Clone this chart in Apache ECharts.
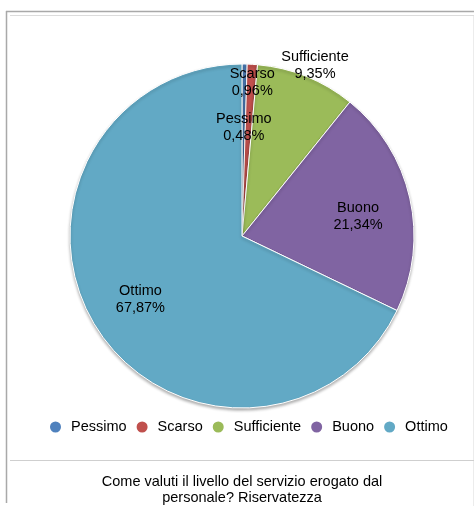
<!DOCTYPE html>
<html>
<head>
<meta charset="utf-8">
<script src="https://cdn.jsdelivr.net/npm/echarts@6/dist/echarts.min.js"></script>
<style>
  html, body { margin: 0; padding: 0; background: #fff; }
  #chart { width: 474px; height: 506px; }
</style>
</head>
<body>
<div id="chart"></div>
<script>
// Survey answers and their share of responses (percent)
const categories = ['Pessimo', 'Scarso', 'Sufficiente', 'Buono', 'Ottimo'];
const shares = [0.48, 0.96, 9.35, 21.34, 67.87];
const sliceColors = ['#4f81bd', '#c0504d', '#9bbb59', '#8064a2', '#62a9c5'];
// Small slices get their labels nudged away from the crowded top of the pie
const labelOffsets = [[0, 11], [3, -34], [28, -59], [-1, 7], [0, 0]];

const titleLines = ['Come valuti il livello del servizio erogato dal', 'personale? Riservatezza'];

const FONT = '"Liberation Sans", Arial, Helvetica, sans-serif';
const FS = 14.5;
const fmt = v => v.toFixed(2).replace('.', ',') + '%';

const center = [242, 236];
const R = 172;

const pieData = categories.map((name, i) => ({
  name,
  value: shares[i],
  itemStyle: { color: sliceColors[i] }
}));

const labelData = categories.map((name, i) => ({
  name,
  value: shares[i],
  label: { offset: labelOffsets[i] }
}));

const chart = echarts.init(document.getElementById('chart'), null, { renderer: 'canvas' });

chart.setOption({
  animation: false,
  backgroundColor: '#ffffff',
  legend: {
    data: categories,
    top: 414,
    left: 43,
    icon: 'circle',
    itemWidth: 21,
    itemHeight: 13,
    itemGap: 8,
    textStyle: { fontFamily: FONT, fontSize: FS, color: '#000', lineHeight: 16 }
  },
  graphic: [
    // outer frame
    { type: 'line', shape: { x1: 6.5, y1: 11, x2: 6.5, y2: 503 }, style: { stroke: '#a9a9a9', lineWidth: 1.5 } },
    { type: 'line', shape: { x1: 6, y1: 11.5, x2: 474, y2: 11.5 }, style: { stroke: '#a9a9a9', lineWidth: 1.5 } },
    { type: 'line', shape: { x1: 473.5, y1: 15, x2: 473.5, y2: 506 }, style: { stroke: '#ececec', lineWidth: 1 } },
    // inner rules
    { type: 'line', shape: { x1: 10, y1: 15.5, x2: 474, y2: 15.5 }, style: { stroke: '#dcdcdc', lineWidth: 1 } },
    { type: 'line', shape: { x1: 10, y1: 460.5, x2: 474, y2: 460.5 }, style: { stroke: '#cfcfcf', lineWidth: 1 } },
    // caption
    {
      type: 'text', x: 242, y: 482,
      style: { text: titleLines[0], font: FS + 'px ' + FONT, fill: '#000', textAlign: 'center', textVerticalAlign: 'middle' }
    },
    {
      type: 'text', x: 242, y: 498,
      style: { text: titleLines[1], font: FS + 'px ' + FONT, fill: '#000', textAlign: 'center', textVerticalAlign: 'middle' }
    }
  ],
  series: [
    {
      type: 'pie',
      center: center,
      radius: [0, R],
      startAngle: 90,
      clockwise: true,
      silent: true,
      label: { show: false },
      labelLine: { show: false },
      itemStyle: {
        borderColor: '#ffffff',
        borderWidth: 1,
        shadowBlur: 3,
        shadowOffsetY: 2,
        shadowColor: 'rgba(0,0,0,0.3)'
      },
      data: pieData
    },
    {
      // label carrier: ring whose mid-radius sets where the labels sit
      type: 'pie',
      center: center,
      radius: [62, R],
      startAngle: 90,
      clockwise: true,
      silent: true,
      itemStyle: { color: 'rgba(0,0,0,0)', borderWidth: 0 },
      label: {
        show: true,
        position: 'inside',
        fontFamily: FONT,
        fontSize: FS,
        lineHeight: 17,
        color: '#000',
        align: 'center',
        formatter: p => p.name + '\n' + fmt(p.value)
      },
      labelLine: { show: false },
      data: labelData
    }
  ]
});
</script>
</body>
</html>
